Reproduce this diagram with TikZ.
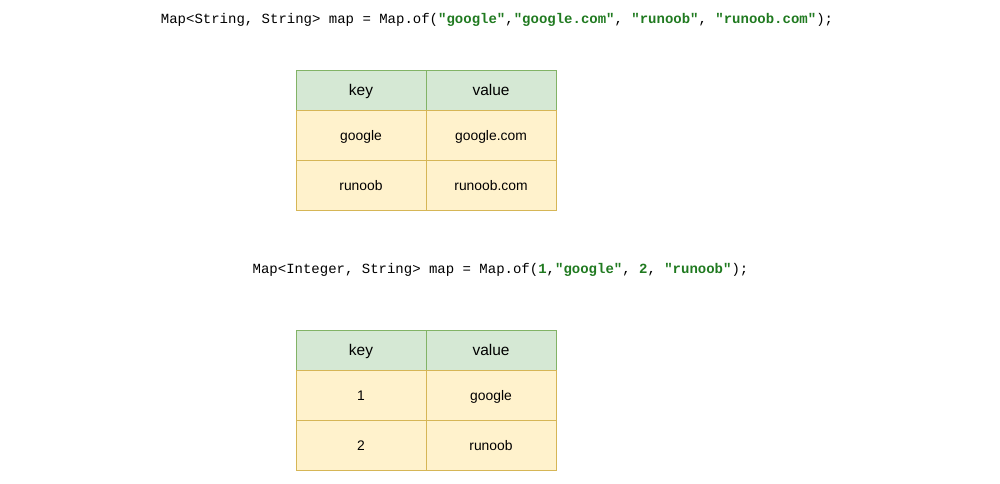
\documentclass[tikz,border=0pt]{standalone}
\usepackage{fontspec}
\setmainfont{Liberation Sans}
\setmonofont{Liberation Mono}
\usepackage{tikz}
\usetikzlibrary{positioning}

\definecolor{headfill}{HTML}{D5E8D4}
\definecolor{headline}{HTML}{82B366}
\definecolor{rowfill}{HTML}{FFF2CC}
\definecolor{rowline}{HTML}{D6B656}
\definecolor{codegreen}{RGB}{32,122,32}

\newcommand{\str}[1]{\textcolor{codegreen}{\textbf{#1}}}

\begin{document}
\begin{tikzpicture}[x=0.75pt, y=-0.75pt, node distance=0pt,
    every node/.style={outer sep=0pt},
    head/.style={draw=headline, fill=headfill, minimum width=97.5pt, minimum height=30pt, text height=0.9em, text depth=0.1em, font=\fontsize{11.6}{13}\selectfont},
    cell/.style={draw=rowline, fill=rowfill, minimum width=97.5pt, minimum height=37.5pt, text height=0.9em, text depth=0.1em, font=\fontsize{10.4}{12}\selectfont},
    code/.style={inner sep=0pt, font=\ttfamily\fontsize{10.5}{12}\selectfont}]
    \useasboundingbox (0,0) rectangle (1000,483);

    \node[code] (c1) at (497,20) {Map<String, String> map = Map.of(\str{"google"},\str{"google.com"}, \str{"runoob"}, \str{"runoob.com"});};

    \node[head, anchor=north west] (k1) at (296,70) {key};
    \node[head] (v1) [right=of k1] {value};
    \node[cell] (a1) [below=of k1] {google};
    \node[cell] (b1) [right=of a1] {google.com};
    \node[cell] (a2) [below=of a1] {runoob};
    \node[cell] (b2) [right=of a2] {runoob.com};

    \node[code] (c2) at (500.5,270) {Map<Integer, String> map = Map.of(\str{1},\str{"google"}, \str{2}, \str{"runoob"});};

    \node[head, anchor=north west] (k2) at (296,330) {key};
    \node[head] (v2) [right=of k2] {value};
    \node[cell] (a3) [below=of k2] {1};
    \node[cell] (b3) [right=of a3] {google};
    \node[cell] (a4) [below=of a3] {2};
    \node[cell] (b4) [right=of a4] {runoob};
\end{tikzpicture}
\end{document}
